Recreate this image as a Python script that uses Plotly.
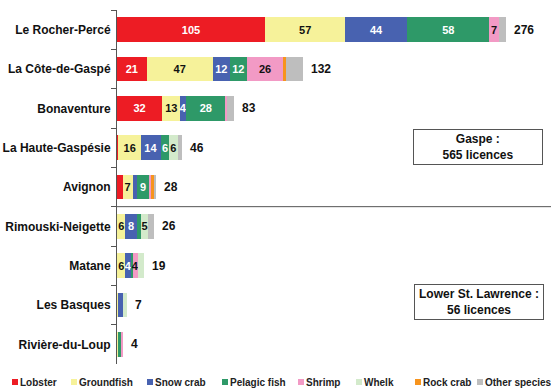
import plotly.graph_objects as go

# Fishing licences by regional county municipality and main species
regions = ["Le Rocher-Percé", "La Côte-de-Gaspé", "Bonaventure", "La Haute-Gaspésie",
           "Avignon", "Rimouski-Neigette", "Matane", "Les Basques", "Rivière-du-Loup"]

lobster = [105, 21, 32, 1, 4, 0, 0, 0, 0]
groundfish = [57, 47, 13, 16, 7, 6, 6, 1, 1]
snow_crab = [44, 12, 4, 14, 3, 8, 4, 3, 0]
pelagic_fish = [58, 12, 28, 6, 9, 3, 1, 0, 2]
shrimp = [7, 26, 1, 0, 1, 0, 4, 0, 1]
whelk = [0, 0, 0, 6, 0, 5, 4, 3, 0]
rock_crab = [0, 2, 0, 0, 2, 0, 0, 0, 0]
other_species = [5, 12, 5, 3, 2, 4, 0, 0, 0]

species_names = ["Lobster", "Groundfish", "Snow crab", "Pelagic fish",
                 "Shrimp", "Whelk", "Rock crab", "Other species"]
species_values = [lobster, groundfish, snow_crab, pelagic_fish,
                  shrimp, whelk, rock_crab, other_species]
species_colors = ["#ED1C24", "#F6F29A", "#4862B0", "#2E9968",
                  "#F29AC5", "#D3EACB", "#F7941D", "#BEBEBE"]
label_colors = ["white", "#111111", "white", "white",
                "#111111", "#111111", "#111111", "#111111"]
# smallest value that gets a label inside its segment (None = never)
label_min = [5, 4, 4, 4, 4, 5, None, None]

gaspe_regions = regions[:5]
lower_regions = regions[5:]

FONT = "Arial, 'Liberation Sans', sans-serif"
W, H = 551, 388
ML, MR, MT, MB = 117, 0, 10, 24
PW, PH = W - ML - MR, H - MT - MB


def px_x(x):
    return (x - ML) / PW


def px_y(y):
    return 1 - (y - MT) / PH


fig = go.Figure()

for name, vals, color, tcol, lmin in zip(species_names, species_values, species_colors,
                                          label_colors, label_min):
    labels = [str(v) if (lmin is not None and v >= lmin) else "" for v in vals]
    fig.add_trace(go.Bar(
        y=regions, x=vals, name=name, orientation="h",
        marker=dict(color=color, line=dict(width=0)),
        text=labels, textposition="inside", insidetextanchor="middle",
        textangle=0, constraintext="none",
        textfont=dict(family=FONT, size=11, color=tcol, weight="bold"),
        showlegend=False, hoverinfo="x+y+name",
    ))

totals = [sum(col) for col in zip(*species_values)]
for reg, tot in zip(regions, totals):
    fig.add_annotation(x=tot, y=reg, xref="x", yref="y", text=str(tot),
                       showarrow=False, xanchor="left", xshift=6,
                       font=dict(family=FONT, size=12, color="#111111", weight="bold"))

# divider between the two administrative regions
fig.add_shape(type="line", xref="paper", x0=0, x1=1, yref="y",
              y0=len(gaspe_regions) - 0.5, y1=len(gaspe_regions) - 0.5,
              line=dict(color="#555555", width=1))

gaspe_total = sum(totals[:len(gaspe_regions)])
lower_total = sum(totals[len(gaspe_regions):])
for txt, cx, cy in [(f"Gaspe :<br>{gaspe_total} licences", 478, 147),
                    (f"Lower St. Lawrence :<br>{lower_total} licences", 479, 302)]:
    fig.add_annotation(x=px_x(cx), y=px_y(cy), xref="paper", yref="paper",
                       text=txt, showarrow=False, xanchor="center", yanchor="middle",
                       width=124, borderpad=2, bordercolor="#555555", borderwidth=1,
                       bgcolor="white", align="center",
                       font=dict(family=FONT, size=12, color="#111111", weight="bold"))

# legend row along the bottom
legend_x = [12, 71, 147, 222, 298, 356, 415, 477]
legend_y = 382
for name, color, lx in zip(species_names, species_colors, legend_x):
    fig.add_shape(type="rect", xref="paper", yref="paper",
                  x0=px_x(lx), x1=px_x(lx + 6), y0=px_y(legend_y + 3), y1=px_y(legend_y - 3),
                  fillcolor=color, line=dict(width=0))
    fig.add_annotation(x=px_x(lx + 6), y=px_y(legend_y), xref="paper", yref="paper",
                       text=name, showarrow=False, xanchor="left", yanchor="middle",
                       font=dict(family=FONT, size=10, color="#222222", weight="bold"))

fig.update_layout(
    width=W, height=H, barmode="stack", bargap=0.38,
    margin=dict(l=ML, r=MR, t=MT, b=MB),
    paper_bgcolor="white", plot_bgcolor="white",
    uniformtext=dict(mode="show", minsize=11),
    xaxis=dict(visible=False, range=[0, PW / 1.41], fixedrange=True),
    yaxis=dict(type="category", autorange="reversed", showline=True,
               linecolor="#555555", linewidth=1, ticks="outside", ticklen=5,
               tickcolor="#555555", tickson="boundaries", showgrid=False,
               ticklabelstandoff=3,
               tickfont=dict(family=FONT, size=12, color="#111111", weight="bold")),
    font=dict(family=FONT),
)

fig.write_html("out.html")
